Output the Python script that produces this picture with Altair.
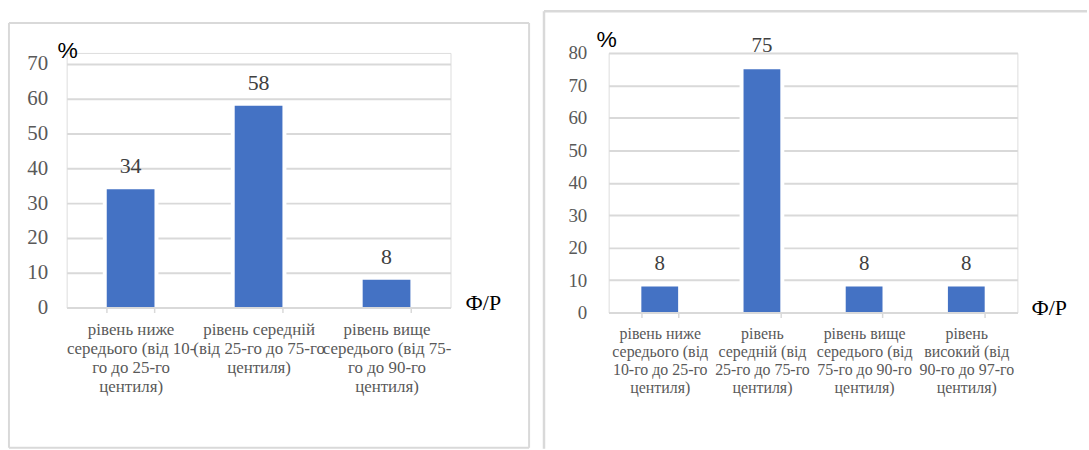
import altair as alt
import pandas as pd

# ---- data ----
left_categories = [
    "рівень ниже\nсередього (від 10-\nго до 25-го\nцентиля)",
    "рівень середній\n(від 25-го до 75-го\nцентиля)",
    "рівень вище\nсередього (від 75-\nго до 90-го\nцентиля)",
]
left_values = [34, 58, 8]

right_categories = [
    "рівень ниже\nсередього (від\n10-го до 25-го\nцентиля)",
    "рівень\nсередній (від\n25-го до 75-го\nцентиля)",
    "рівень вище\nсередього (від\n75-го до 90-го\nцентиля)",
    "рівень\nвисокий (від\n90-го до 97-го\nцентиля)",
]
right_values = [8, 75, 8, 8]

left_y_ticks = [0, 10, 20, 30, 40, 50, 60, 70]
right_y_ticks = [0, 10, 20, 30, 40, 50, 60, 70, 80]

y_unit = "%"
x_unit = "Ф/Р"

BLUE = "#4472C4"
GRID = "#d9d9d9"
LABEL = "#595959"
SERIF = "'Liberation Serif', 'Times New Roman', 'DejaVu Serif', serif"
SANS = "'Liberation Sans', Arial, sans-serif"
ONE = alt.Data(values=[{"k": 1}])


def panel(cats, vals, yticks, W, H, yrange, pad_inner, lab_size, ylab_size,
          data_size, ylab_pad, xlab_pad, xline_h, pct_xy, fr_xy, border):
    df = pd.DataFrame({"cat": cats, "val": vals})
    xenc = alt.X(
        "cat:N", sort=None, title=None,
        scale=alt.Scale(paddingInner=pad_inner, paddingOuter=pad_inner / 2),
        axis=alt.Axis(
            labelAngle=0, labelFont=SERIF, labelFontSize=lab_size,
            labelColor=LABEL, labelLineHeight=xline_h, labelPadding=xlab_pad,
            labelExpr="split(datum.label, '\\n')", labelLimit=0,
            domainColor=GRID, domainWidth=2, tickColor=GRID, tickWidth=1.5,
            tickSize=5, tickBand="extent", grid=False, zindex=1,
            labelBaseline="top",
        ),
    )
    yenc = alt.Y(
        "val:Q", title=None,
        scale=alt.Scale(domain=[yticks[0], yticks[-1]], nice=False, range=yrange),
        axis=alt.Axis(
            values=yticks, labelFont=SERIF, labelFontSize=ylab_size,
            labelColor=LABEL, labelPadding=ylab_pad, domain=False, ticks=False,
            gridColor=GRID, gridWidth=2, zindex=0,
        ),
    )
    base = alt.Chart(df)
    halo = base.mark_bar(color="white", stroke="white", strokeWidth=8).encode(x=xenc, y=yenc)
    bars = base.mark_bar(color=BLUE).encode(x=xenc, y=yenc)
    labels = base.mark_text(
        font=SERIF, fontSize=data_size, color="#404040", baseline="middle", dy=-23
    ).encode(x=xenc, y=yenc, text=alt.Text("val:Q", format=".0f"))

    pct = alt.Chart(ONE).mark_text(
        text=y_unit, font=SANS, fontSize=23, color="black",
        align="center", baseline="middle",
    ).encode(x=alt.value(pct_xy[0]), y=alt.value(pct_xy[1]))
    fr = alt.Chart(ONE).mark_text(
        text=x_unit, font=SERIF, fontSize=22, color="black",
        align="center", baseline="middle",
    ).encode(x=alt.value(fr_xy[0]), y=alt.value(fr_xy[1]))

    layers = [halo, bars, labels, pct, fr] + border
    return alt.layer(*layers).properties(width=W, height=H)


def rule(x, x2, y, y2, color=GRID, width=2):
    return alt.Chart(ONE).mark_rule(color=color, strokeWidth=width).encode(
        x=alt.value(x), x2=alt.value(x2), y=alt.value(y), y2=alt.value(y2)
    )


# both panels share the plot origin row at y=51
# left panel: plot at x=66, zero at y=307, top tick at y=62
left_border = [
    rule(-58, 465, -30, -30),
    rule(-58, 465, 397, 397),
    rule(-58, -58, -30, 397),
    rule(465, 465, -30, 397),
]
left = panel(left_categories, left_values, left_y_ticks, 386, 256, [256, 11], 0.627,
             17, 21, 22, 19, 9, 19, (1, -2), (419, 251), left_border)

# right panel: plot at (607, 51), 411 x 261
right_border = [
    rule(-65, 481, -42, -42, width=2.5),
    rule(-65, -65, -42, 398, width=2.5),
]
right = panel(right_categories, right_values, right_y_ticks, 411, 261, [261, 0], 0.64,
              16, 19, 21, 22, 8, 18, (-2, -13), (443, 256), right_border)

chart = alt.hconcat(left, right, spacing=11).properties(
    padding={"left": 7, "top": 8, "right": 0, "bottom": 0}
).configure_view(stroke=None).configure(background="white")

chart.save("out.html", embed_options={"renderer": "svg", "actions": False})
